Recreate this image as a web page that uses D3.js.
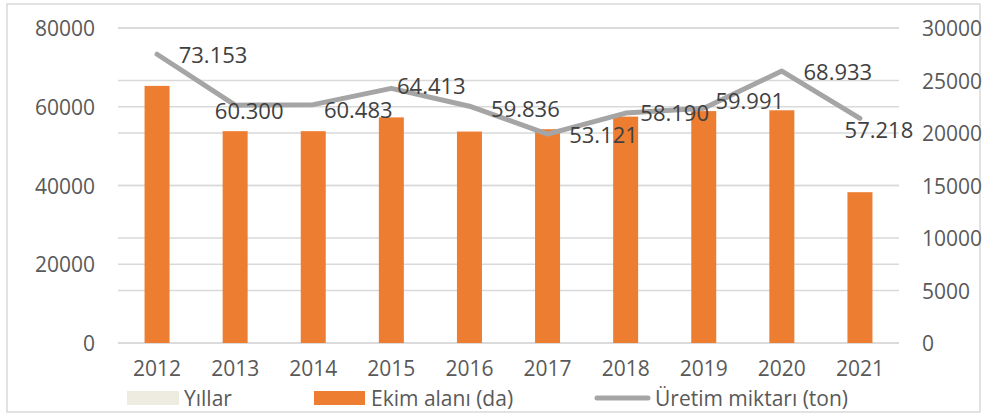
<!DOCTYPE html>
<html>
<head>
<meta charset="utf-8">
<script src="https://cdn.jsdelivr.net/npm/d3@7"></script>
<style>
  html, body { margin: 0; padding: 0; background: #fff; }
  svg { display: block; font-family: "Open Sans", "Noto Sans", sans-serif; }
</style>
</head>
<body>
<svg id="chart" width="984" height="414"></svg>
<script>
// data
const years = ["2012", "2013", "2014", "2015", "2016", "2017", "2018", "2019", "2020", "2021"];
const ekimAlani = [65300, 53800, 53800, 57300, 53700, 54300, 57500, 58900, 59100, 38300];
const uretim = [27500, 22650, 22700, 24250, 22550, 19900, 21900, 22350, 25900, 21400];
const uretimLabels = ["73.153", "60.300", "60.483", "64.413", "59.836", "53.121", "58.190", "59.991", "68.933", "57.218"];
const leftTicks = [0, 20000, 40000, 60000, 80000];
const rightTicks = [0, 5000, 10000, 15000, 20000, 25000, 30000];

// label nudges (px) relative to each line point
const labelDx = [56, 14, 45, 40, 56, 56, 49, 46, 56, 19];
const labelDy = [1, 5.5, 5.5, -2.5, 2.7, 0.7, 0, -7, 0.7, 12];

const svg = d3.select("#chart");
const plot = { left: 118, right: 899, top: 28, bottom: 343 };

// outer frame
svg.append("rect")
    .attr("x", 7).attr("y", 4)
    .attr("width", 973).attr("height", 408)
    .attr("fill", "#fff")
    .attr("stroke", "#d9d9d9")
    .attr("stroke-width", 1.5);

const x = d3.scaleBand()
    .domain(years)
    .range([plot.left, plot.right])
    .paddingInner(0.68)
    .paddingOuter(0.34);

const yLeft = d3.scaleLinear().domain([0, 80000]).range([plot.bottom, plot.top]);
const yRight = d3.scaleLinear().domain([0, 30000]).range([plot.bottom, plot.top]);

// gridlines for both axes
const grid = svg.append("g").attr("class", "grid");
grid.selectAll("line.gl")
    .data(leftTicks)
    .join("line")
    .attr("class", "gl")
    .attr("x1", plot.left).attr("x2", plot.right)
    .attr("y1", d => yLeft(d)).attr("y2", d => yLeft(d))
    .attr("stroke", "#d9d9d9").attr("stroke-width", 1.5);
grid.selectAll("line.gr")
    .data(rightTicks)
    .join("line")
    .attr("class", "gr")
    .attr("x1", plot.left).attr("x2", plot.right)
    .attr("y1", d => yRight(d)).attr("y2", d => yRight(d))
    .attr("stroke", "#d9d9d9").attr("stroke-width", 1.5);

// axes (text only)
const leftAxis = svg.append("g")
    .attr("transform", `translate(${plot.left},0)`)
    .call(d3.axisLeft(yLeft).tickValues(leftTicks).tickFormat(d3.format("d")).tickSize(0).tickPadding(23));
const rightAxis = svg.append("g")
    .attr("transform", `translate(${plot.right},0)`)
    .call(d3.axisRight(yRight).tickValues(rightTicks).tickFormat(d3.format("d")).tickSize(0).tickPadding(23));
const bottomAxis = svg.append("g")
    .attr("transform", `translate(0,${plot.bottom})`)
    .call(d3.axisBottom(x).tickSize(0).tickPadding(19));

[leftAxis, rightAxis, bottomAxis].forEach(a => {
    a.select(".domain").remove();
    a.selectAll("text")
        .attr("fill", "#595959")
        .style("font-size", "21px")
        .style("font-family", "\"Open Sans\", sans-serif");
});
leftAxis.selectAll("text").attr("dy", "0.36em");
rightAxis.selectAll("text").attr("dy", "0.36em");
bottomAxis.selectAll("text").attr("dy", "0.68em");

// bars
svg.append("g")
    .selectAll("rect")
    .data(ekimAlani)
    .join("rect")
    .attr("x", (d, i) => x(years[i]))
    .attr("y", d => yLeft(d))
    .attr("width", x.bandwidth())
    .attr("height", d => yLeft(0) - yLeft(d))
    .attr("fill", "#ed7d31");

// line
const cx = i => x(years[i]) + x.bandwidth() / 2;
const line = d3.line()
    .x((d, i) => cx(i))
    .y(d => yRight(d));

svg.append("path")
    .datum(uretim)
    .attr("d", line)
    .attr("fill", "none")
    .attr("stroke", "#a5a5a5")
    .attr("stroke-width", 5)
    .attr("stroke-linejoin", "round")
    .attr("stroke-linecap", "round");

// data labels
svg.append("g")
    .selectAll("text")
    .data(uretim)
    .join("text")
    .attr("x", (d, i) => cx(i) + labelDx[i])
    .attr("y", (d, i) => yRight(d) + labelDy[i])
    .attr("dy", "0.36em")
    .attr("text-anchor", "middle")
    .attr("fill", "#404040")
    .style("font-size", "22px")
    .text((d, i) => uretimLabels[i]);

// legend
const legend = svg.append("g").style("font-size", "21px").attr("fill", "#595959");
const ly = 398;
legend.append("rect")
    .attr("x", 127).attr("y", ly - 7).attr("width", 52).attr("height", 14)
    .attr("fill", "#eeece1");
legend.append("text").attr("x", 184).attr("y", ly).attr("dy", "0.36em").text("Yıllar");
legend.append("rect")
    .attr("x", 314).attr("y", ly - 7).attr("width", 51).attr("height", 14)
    .attr("fill", "#ed7d31");
legend.append("text").attr("x", 371).attr("y", ly).attr("dy", "0.36em").text("Ekim alanı (da)");
legend.append("line")
    .attr("x1", 597).attr("x2", 648).attr("y1", ly).attr("y2", ly)
    .attr("stroke", "#a5a5a5").attr("stroke-width", 5).attr("stroke-linecap", "round");
legend.append("text").attr("x", 655).attr("y", ly).attr("dy", "0.36em").text("Üretim miktarı (ton)");
</script>
</body>
</html>
